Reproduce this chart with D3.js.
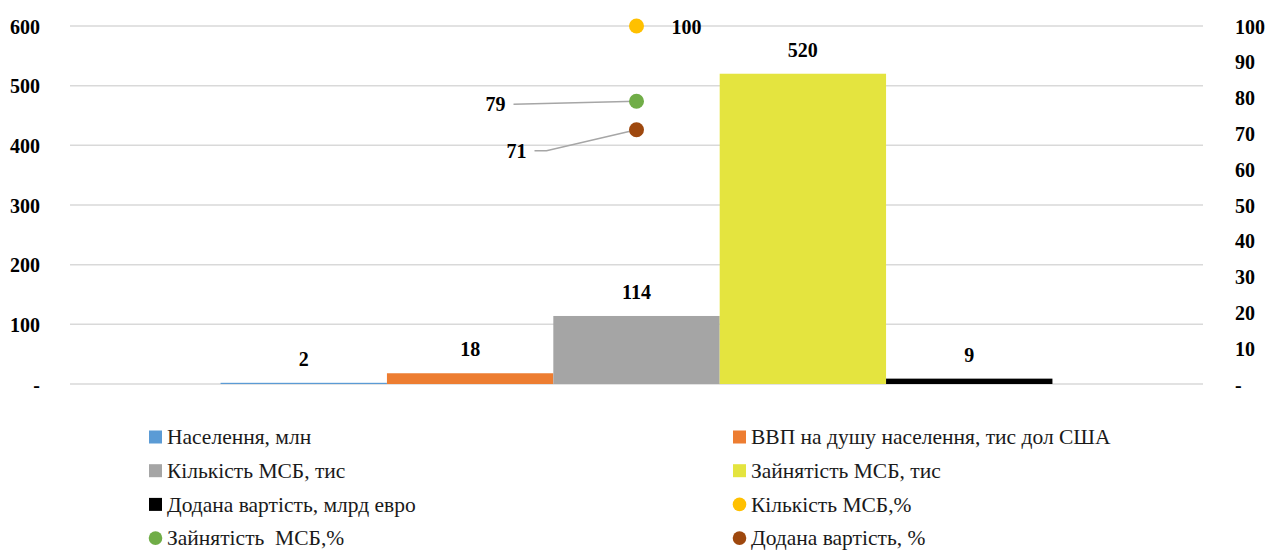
<!DOCTYPE html>
<meta charset="utf-8">
<style>
body { margin: 0; background: #fff; }
svg { display: block; }
svg text { font-family: "Liberation Serif", "DejaVu Serif", serif; }
.axis text { font-size: 20px; font-weight: bold; fill: #000; }
.axis path, .axis line { display: none; }
.grid line { stroke: #d9d9d9; stroke-width: 1.5px; }
.lbl { font-size: 20px; font-weight: bold; fill: #000; }
.legend text { font-size: 21.5px; fill: #1a1a1a; }
</style>
<svg width="1271" height="552"></svg>
<script src="https://cdn.jsdelivr.net/npm/d3@7"></script>
<script>
// bar series (left axis)
var barNames = ["Населення, млн", "ВВП на душу населення, тис дол США", "Кількість МСБ, тис", "Зайнятість МСБ, тис", "Додана вартість, млрд евро"];
var barValues = [2, 18, 114, 520, 9];
var barColors = ["#5b9bd5", "#ed7d31", "#a5a5a5", "#e4e43f", "#000000"];

// point series (right axis, %)
var pctNames = ["Кількість МСБ,%", "Зайнятість  МСБ,%", "Додана вартість, %"];
var pctValues = [100, 79, 71];
var pctColors = ["#ffc000", "#70ad47", "#9e480e"];

var leftTicks = [0, 100, 200, 300, 400, 500, 600];
var rightTicks = [0, 10, 20, 30, 40, 50, 60, 70, 80, 90, 100];

var svg = d3.select("svg"),
    margin = {top: 26, left: 70, right: 68},
    width = 1271 - margin.left - margin.right,
    plotH = 358,
    g = svg.append("g").attr("transform", "translate(" + margin.left + "," + margin.top + ")");

var x0 = d3.scaleBand().domain(["all"]).range([0, width]).paddingInner(0).paddingOuter(0.181);
var x1 = d3.scaleBand().domain(barNames).range([x0("all"), x0("all") + x0.bandwidth()]);
var yL = d3.scaleLinear().domain([0, 600]).range([plotH, 0]);
var yR = d3.scaleLinear().domain([0, 100]).range([plotH, 0]);

function fmt(d) { return d === 0 ? "-" : d; }

// gridlines
g.append("g").attr("class", "grid")
  .selectAll("line").data(leftTicks).enter().append("line")
    .attr("x1", 0).attr("x2", width)
    .attr("y1", function(d) { return yL(d); })
    .attr("y2", function(d) { return yL(d); });

// axes
g.append("g").attr("class", "axis")
    .attr("transform", "translate(-27,0)")
    .call(d3.axisLeft(yL).tickValues(leftTicks).tickFormat(fmt).tickSize(0))
  .selectAll("text").attr("dy", "0.35em");

g.append("g").attr("class", "axis")
    .attr("transform", "translate(" + (width + 29) + ",0)")
    .call(d3.axisRight(yR).tickValues(rightTicks).tickFormat(fmt).tickSize(0))
  .selectAll("text").attr("dy", "0.35em");

// bars
var bars = barNames.map(function(n, i) { return {name: n, value: barValues[i], color: barColors[i]}; });
g.selectAll(".bar").data(bars).enter().append("rect")
    .attr("class", "bar")
    .attr("x", function(d) { return x1(d.name); })
    .attr("width", x1.bandwidth())
    .attr("y", function(d) { return yL(d.value); })
    .attr("height", function(d) { return plotH - yL(d.value); })
    .attr("fill", function(d) { return d.color; });

g.selectAll(".barlbl").data(bars).enter().append("text")
    .attr("class", "lbl")
    .attr("text-anchor", "middle")
    .attr("x", function(d) { return x1(d.name) + x1.bandwidth() / 2; })
    .attr("y", function(d) { return yL(d.value) - 17; })
    .text(function(d) { return d.value; });

// points
var cx = x0("all") + x0.bandwidth() / 2;
var pts = pctNames.map(function(n, i) { return {name: n, value: pctValues[i], color: pctColors[i]}; });

// leader lines for labels placed to the left
var leaders = [
  null,
  [[cx - 123, yR(79) + 3], [cx, yR(79)]],
  [[cx - 102, yR(71) + 21], [cx - 90, yR(71) + 21], [cx, yR(71)]]
];
g.selectAll(".leader").data(leaders.filter(function(d) { return d; })).enter().append("path")
    .attr("d", d3.line())
    .attr("fill", "none")
    .attr("stroke", "#a6a6a6")
    .attr("stroke-width", 1.5);

g.selectAll(".pt").data(pts).enter().append("circle")
    .attr("cx", cx)
    .attr("cy", function(d) { return yR(d.value); })
    .attr("r", 7.5)
    .attr("fill", function(d) { return d.color; });

var ptLbl = [
  {dx: 35, dy: 1, anchor: "start"},
  {dx: -131, dy: 3, anchor: "end"},
  {dx: -110, dy: 21, anchor: "end"}
];
g.selectAll(".ptlbl").data(pts).enter().append("text")
    .attr("class", "lbl")
    .attr("text-anchor", function(d, i) { return ptLbl[i].anchor; })
    .attr("x", function(d, i) { return cx + ptLbl[i].dx; })
    .attr("y", function(d, i) { return yR(d.value) + ptLbl[i].dy; })
    .attr("dy", "0.35em")
    .text(function(d) { return d.value; });

// legend: two columns, filled row by row
var legItems = bars.map(function(d) { return {name: d.name, color: d.color, shape: "rect"}; })
  .concat(pts.map(function(d) { return {name: d.name, color: d.color, shape: "circle"}; }));
var colX = [149, 733], rowY0 = 437, rowH = 33.7;

var leg = svg.append("g").attr("class", "legend")
  .selectAll("g").data(legItems).enter().append("g")
    .attr("transform", function(d, i) {
      return "translate(" + colX[i % 2] + "," + (rowY0 + Math.floor(i / 2) * rowH) + ")";
    });

leg.filter(function(d) { return d.shape === "rect"; }).append("rect")
    .attr("x", 0).attr("y", -6.5).attr("width", 13).attr("height", 13)
    .attr("fill", function(d) { return d.color; });
leg.filter(function(d) { return d.shape === "circle"; }).append("circle")
    .attr("cx", 6.5).attr("cy", 0).attr("r", 6.8)
    .attr("fill", function(d) { return d.color; });
leg.append("text")
    .attr("x", 18).attr("dy", "0.33em")
    .style("white-space", "pre")
    .text(function(d) { return d.name; });
</script>
